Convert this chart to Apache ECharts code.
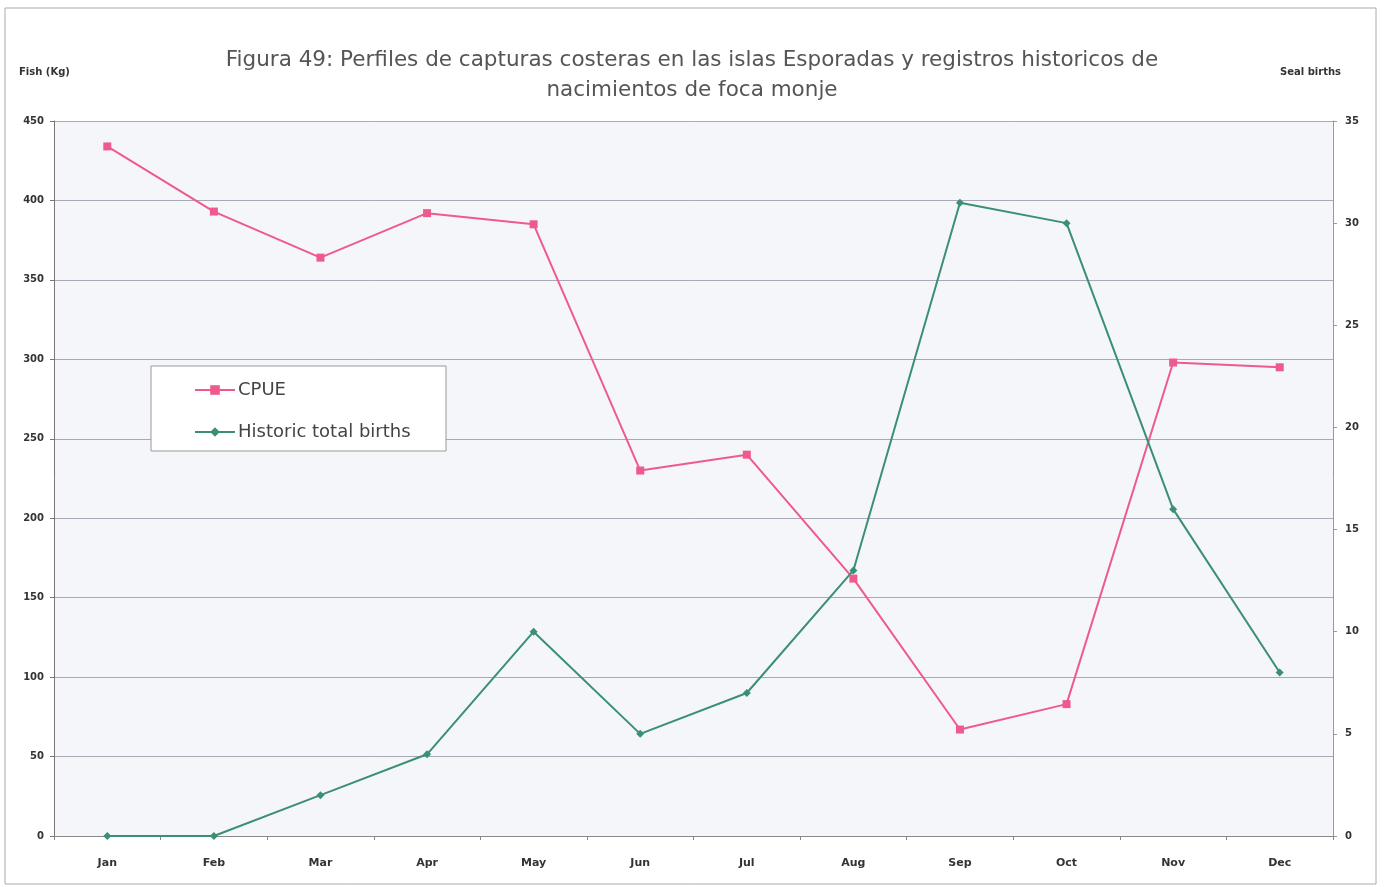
<!DOCTYPE html>
<html><head><meta charset="utf-8">
<script src="https://cdn.jsdelivr.net/npm/echarts@6/dist/echarts.min.js"></script>
<style>html,body{margin:0;padding:0;background:#fff}#c{width:1387px;height:887px}</style>
</head><body><div id="c"></div>
<script>
const months = ['Jan','Feb','Mar','Apr','May','Jun','Jul','Aug','Sep','Oct','Nov','Dec'];
const cpue = [434, 393, 364, 392, 385, 230, 240, 162, 67, 83, 298, 295];
const births = [0, 0, 2, 4, 10, 5, 7, 13, 31, 30, 16, 8];
const leftTicks = [0, 450, 50];
const rightTicks = [0, 35, 5];

const chart = echarts.init(document.getElementById('c'));
const axisFont = {fontFamily: 'DejaVu Sans', fontWeight: 'bold', fontSize: 10, color: '#333'};
chart.setOption({
  backgroundColor: '#fff',
  animation: false,
  graphic: [
    {type: 'rect', shape: {x: 5, y: 8, width: 1371, height: 876}, style: {fill: 'none', stroke: '#aaa', lineWidth: 1}, z: -10},
    {type: 'rect', shape: {x: 151, y: 366, width: 295, height: 85}, style: {fill: '#fff', stroke: '#999', lineWidth: 1}, z: 50},
    {type: 'text', x: 692, y: 45, style: {text: 'Figura 49: Perfiles de capturas costeras en las islas Esporadas y registros historicos de\nnacimientos de foca monje', textAlign: 'center', fontFamily: 'DejaVu Sans', fontSize: 21.5, lineHeight: 30, fill: '#555'}},
    {type: 'text', left: 19, top: 67, style: {text: 'Fish (Kg)', fontFamily: 'DejaVu Sans', fontWeight: 'bold', fontSize: 10, fill: '#333'}},
    {type: 'text', left: 1280, top: 67, style: {text: 'Seal births', fontFamily: 'DejaVu Sans', fontWeight: 'bold', fontSize: 10, fill: '#333'}}
  ],
  legend: {
    orient: 'vertical', left: 189, top: 376, itemGap: 24, itemWidth: 40, itemHeight: 12, z: 60,
    textStyle: {fontFamily: 'DejaVu Sans', fontSize: 18, color: '#444', padding: [0,0,0,-2]},
    data: ['CPUE', 'Historic total births']
  },
  grid: {left: 54, right: 54, top: 121, bottom: 51, backgroundColor: '#f5f6f9', show: true, borderWidth: 0},
  xAxis: {
    type: 'category', data: months, boundaryGap: true,
    axisLine: {lineStyle: {color: '#888'}},
    axisTick: {show: true, lineStyle: {color: '#888'}, length: 4},
    axisLabel: Object.assign({}, axisFont, {margin: 22, fontSize: 11})
  },
  yAxis: [
    {type: 'value', min: leftTicks[0], max: leftTicks[1], interval: leftTicks[2],
     axisLine: {show: true, lineStyle: {color: '#777'}},
     axisTick: {show: true, inside: false, length: 4, lineStyle: {color: '#777'}},
     axisLabel: Object.assign({margin: 10}, axisFont),
     splitLine: {show: true, lineStyle: {color: '#a8a8b8', width: 1}}},
    {type: 'value', min: rightTicks[0], max: rightTicks[1], interval: rightTicks[2],
     axisLine: {show: true, lineStyle: {color: '#999'}},
     axisTick: {show: true, length: 4, lineStyle: {color: '#999'}},
     axisLabel: Object.assign({margin: 12}, axisFont),
     splitLine: {show: false}}
  ],
  series: [
    {name: 'CPUE', type: 'line', yAxisIndex: 0, data: cpue,
     symbol: 'rect', symbolSize: 8,
     lineStyle: {color: '#ee5a8e', width: 2}, itemStyle: {color: '#ee5a8e'}},
    {name: 'Historic total births', type: 'line', yAxisIndex: 1, data: births,
     symbol: 'diamond', symbolSize: 8,
     lineStyle: {color: '#3a8f74', width: 2}, itemStyle: {color: '#3a8f74'}}
  ]
});
</script></body></html>
